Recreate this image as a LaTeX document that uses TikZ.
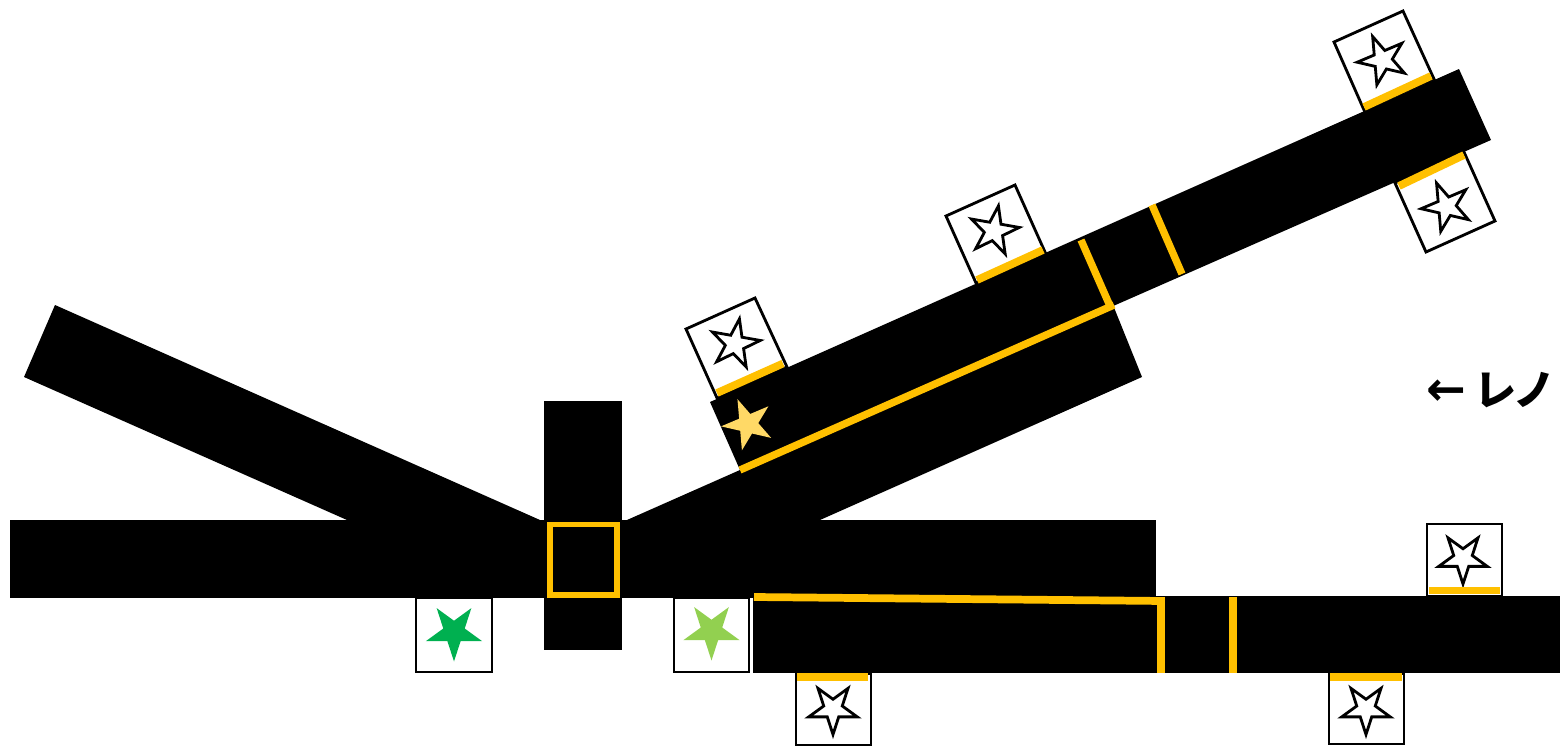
\documentclass[tikz,border=0pt]{standalone}
\usepackage{fontspec}
\newfontfamily\jpfont{Noto Sans CJK JP Black}
\newfontfamily\arrowfont{DejaVu Sans Bold}
\definecolor{amber}{HTML}{FFC000}
\definecolor{dgreen}{HTML}{00B050}
\definecolor{lgreen}{HTML}{92D050}
\definecolor{lyellow}{HTML}{FFD966}
\tikzset{
  track/.style={fill=black,draw=none},
  stopbox/.style={draw=black,line width=1.6pt,fill=white,line join=miter},
  bar/.style={draw=amber,line width=4.4pt},
  hollowstar/.style={draw=black,fill=white,line width=1.6pt,line join=miter,miter limit=10},
}
% style, centre x, centre y, outer radius, clockwise turn from point-up
\newcommand\mystar[5]{%
  \path[#1,shift={(#2,#3)}] plot[samples at={0,...,9},variable=\k]
    ({#5-90+36*\k}:{#4*(mod(\k,2)==0?1:0.382)}) -- cycle;}
\begin{document}
\begin{tikzpicture}[x=0.02cm,y=-0.02cm]
\useasboundingbox (0,0) rectangle (1560,747);
% tracks
\fill[track] (55,305) -- (24,377) -- (347,520) -- (540,520) -- cycle;
\fill[track] (10,520) rectangle (1156,598);
\fill[track] (544,401) rectangle (622,650);
\fill[track] (627,520) -- (740,470) -- (1113,305) -- (1142,377) -- (820,520) -- cycle;
\fill[track] (710,402) -- (1459,69) -- (1491,140) -- (740,470) -- cycle;
\fill[track] (753,597) rectangle (1156,673);
\fill[track] (1156,596) rectangle (1560,673);
% boxes
\draw[stopbox] (416,598) rectangle (492,672);
\draw[stopbox] (674,598) rectangle (749,672);
\draw[stopbox] (796,674) rectangle (871,745);
\draw[stopbox] (1329,674) rectangle (1404,744);
\draw[stopbox] (1427,524) rectangle (1502,596);
\draw[stopbox] (686,329) -- (755,298) -- (787,367) -- (717,398) -- cycle;
\draw[stopbox] (946,216) -- (1015,185) -- (1045,252) -- (976,283) -- cycle;
\draw[stopbox] (1334,42) -- (1403,11) -- (1434,79) -- (1364,110) -- cycle;
\draw[stopbox] (1395,183) -- (1464,152) -- (1495,221) -- (1426,252) -- cycle;
% stars
\mystar{fill=dgreen}{454}{632}{29.5}{180}
\mystar{fill=lgreen}{711.5}{631}{29.5}{180}
\mystar{fill=lyellow}{748}{424}{27}{-23}
\mystar{hollowstar}{833}{709}{25.5}{180}
\mystar{hollowstar}{1366}{709}{25.5}{180}
\mystar{hollowstar}{1463}{558.5}{25.5}{180}
\mystar{hollowstar}{735}{344}{25.5}{10}
\mystar{hollowstar}{994}{231}{25.5}{10}
\mystar{hollowstar}{1382.6}{60}{25.5}{-23}
\mystar{hollowstar}{1446.5}{206.5}{25.5}{-23}
% amber bars
\draw[bar] (797,677) -- (868,677);
\draw[bar] (1330,677) -- (1402,677);
\draw[bar] (1429,590.5) -- (1500,590.5);
\draw[bar] (717,393) -- (783,363.5);
\draw[bar] (977,280) -- (1043,250);
\draw[bar] (1364,107) -- (1431,76);
\draw[bar] (1399,186) -- (1464,155);
\draw[bar,line width=4.2pt] (740,470) -- (1114,305);
\draw[bar,line width=4.2pt] (1081,240) -- (1110,306);
\draw[bar,line width=4.2pt] (1152,205) -- (1182,274);
\draw[bar,line width=4.4pt] (754,597) -- (1164,601);
\draw[bar,line width=4.6pt] (1161,597) -- (1161,673);
\draw[bar,line width=4.6pt] (1233,597) -- (1233,673);
\draw[draw=amber,line width=3.1pt] (550,524.5) rectangle (617,595);
% label
\node[font=\jpfont\fontsize{24}{24}\selectfont,inner sep=0pt,anchor=east] (lbl) at (1556,390) {{\arrowfont\fontsize{27}{27}\selectfont ←}\kern5pt レ\kern-2pt ノ};
\end{tikzpicture}
\end{document}
